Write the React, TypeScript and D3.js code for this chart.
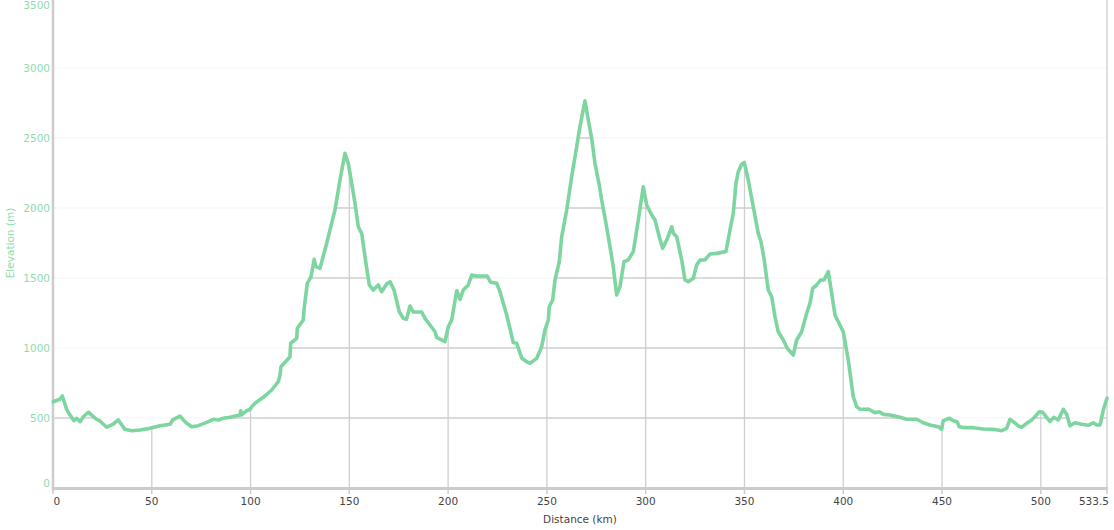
import React from "react";
import * as d3 from "d3";

const distanceKm: number[] = [
  0.15, 3.54, 4.71, 6.93, 8.6, 10.63, 12.0, 13.67, 15.34, 17.87, 19.59, 22.12, 23.79, 27.18, 30.52, 33.05, 34.77, 36.44, 39.83, 44.04,
  49.1, 54.16, 59.22, 60.59, 64.28, 65.95, 67.67, 70.2, 73.54, 77.8, 81.14, 83.67, 86.2, 89.59, 92.98, 94.65, 95.0, 95.3, 98.04, 99.71,
  100.57, 102.24, 106.44, 110.7, 114.04, 114.9, 115.4, 119.96, 120.31, 123.35, 123.65, 126.69, 127.04, 128.71, 130.59, 132.21, 132.97, 135.14, 138.53, 141.87,
  142.73, 145.26, 147.79, 149.47, 151.19, 152.86, 154.53, 156.25, 157.92, 160.1, 162.12, 164.65, 166.37, 168.9, 170.57, 172.6, 175.28, 177.31, 178.93, 180.7,
  182.37, 186.62, 188.29, 190.82, 193.35, 194.21, 198.41, 200.08, 201.8, 204.33, 206.0, 207.67, 210.2, 211.92, 214.45, 219.82, 221.54, 224.58, 226.25, 229.64,
  232.98, 234.7, 237.23, 239.76, 241.43, 244.82, 247.35, 249.02, 250.69, 251.2, 252.92, 254.09, 256.26, 257.48, 260.01, 262.54, 265.07, 266.74, 269.27, 270.94,
  272.66, 274.33, 276.51, 277.72, 279.9, 281.92, 283.59, 285.31, 286.98, 289.01, 291.19, 293.72, 296.25, 298.78, 300.5, 303.03, 304.7, 306.88, 308.6, 310.63,
  313.16, 313.97, 315.69, 318.22, 319.89, 321.56, 324.09, 325.81, 327.48, 330.01, 332.54, 335.93, 340.64, 342.66, 344.33, 345.7, 346.86, 348.58, 349.9, 351.92,
  354.45, 356.98, 358.35, 359.87, 362.05, 363.77, 365.44, 367.11, 369.64, 371.67, 374.7, 376.42, 378.95, 381.48, 383.15, 384.52, 386.54, 388.57, 390.24, 392.42,
  394.14, 395.81, 397.48, 400.01, 402.54, 405.07, 406.79, 408.46, 411.85, 412.66, 416.05, 418.23, 420.25, 423.64, 428.7, 432.09, 437.15, 440.49, 443.88, 448.08,
  449.81, 450.62, 453.66, 455.68, 457.71, 458.72, 461.61, 465.81, 470.87, 475.93, 480.19, 482.72, 484.39, 486.06, 488.59, 490.31, 492.84, 495.37, 497.04, 499.22,
  500.94, 502.96, 504.63, 506.66, 508.84, 511.37, 513.09, 514.76, 517.29, 520.68, 524.03, 526.56, 528.28, 529.95, 531.62, 533.5,
];

const elevationM: number[] = [
  616, 634, 657, 562, 521, 481, 498, 474, 509, 541, 521, 491, 479, 434, 457, 486, 450, 419, 409, 414,
  426, 445, 455, 486, 514, 486, 462, 438, 445, 469, 491, 486, 498, 505, 516, 521, 552, 521, 552, 562,
  581, 605, 648, 700, 759, 807, 866, 938, 1034, 1069, 1141, 1200, 1271, 1462, 1509, 1634, 1581, 1569, 1748, 1938,
  1986, 2200, 2391, 2319, 2176, 2034, 1866, 1819, 1652, 1450, 1414, 1450, 1402, 1457, 1474, 1414, 1259, 1212, 1205, 1300,
  1257, 1257, 1212, 1164, 1116, 1076, 1045, 1152, 1200, 1409, 1348, 1414, 1450, 1521, 1514, 1514, 1469, 1462, 1402, 1236,
  1039, 1034, 929, 902, 891, 926, 1009, 1129, 1200, 1295, 1343, 1486, 1616, 1795, 1986, 2224, 2438, 2581, 2765, 2629,
  2498, 2319, 2164, 2057, 1891, 1724, 1581, 1379, 1438, 1616, 1629, 1688, 1914, 2152, 2021, 1950, 1914, 1795, 1712, 1771,
  1866, 1819, 1795, 1629, 1486, 1474, 1498, 1593, 1629, 1629, 1671, 1676, 1689, 1843, 1962, 2176, 2259, 2312, 2325, 2200,
  2009, 1819, 1759, 1641, 1414, 1366, 1224, 1116, 1057, 998, 950, 1057, 1116, 1248, 1319, 1426, 1450, 1486, 1486, 1545,
  1391, 1236, 1188, 1116, 914, 652, 581, 562, 562, 564, 538, 545, 526, 521, 505, 491, 491, 466, 450, 438,
  419, 481, 498, 481, 471, 438, 431, 431, 421, 419, 409, 426, 491, 474, 443, 434, 462, 486, 509, 545,
  541, 505, 474, 505, 486, 562, 526, 445, 466, 455, 448, 466, 450, 450, 557, 641,
];

const xTickValues: number[] = [0, 50, 100, 150, 200, 250, 300, 350, 400, 450, 500, 533.5];
const xTickLabels: string[] = ["0", "50", "100", "150", "200", "250", "300", "350", "400", "450", "500", "533.5"];
const yTickValues: number[] = [0, 500, 1000, 1500, 2000, 2500, 3000, 3500];
const yTickLabels: string[] = ["0", "500", "1000", "1500", "2000", "2500", "3000", "3500"];

const W = 1114;
const H = 530;
const LINE_COLOR = "#7dd5a0";
const LABEL_GREEN = "#8edcab";
const FONT = "'DejaVu Sans', Verdana, sans-serif";

export default function App() {
  const data = distanceKm.map((d, i) => ({ d, e: elevationM[i] }));
  const x = d3.scaleLinear().domain([0, 533.5]).range([53, 1107]);
  const y = d3.scaleLinear().domain([0, 3500]).range([488, -2]);

  const lineGen = d3
    .line<{ d: number; e: number }>()
    .x((p) => x(p.d))
    .y((p) => y(p.e));
  const areaGen = d3
    .area<{ d: number; e: number }>()
    .x((p) => x(p.d))
    .y0(y(0))
    .y1((p) => y(p.e));

  const x0 = x(0);
  const x1 = x(533.5);
  const yBase = y(0);

  return (
    <div style={{ position: "fixed", left: 0, top: 0, width: W, height: H, background: "#fff" }}>
      <svg width={W} height={H} style={{ display: "block" }}>
        <defs>
          <clipPath id="under">
            <path d={areaGen(data) || ""} />
          </clipPath>
        </defs>
        {/* faint gridlines */}
        {yTickValues.slice(1).map((v) => (
          <line key={"fg" + v} x1={x0} x2={x1} y1={y(v)} y2={y(v)} stroke="#f3f3f3" strokeWidth={1} />
        ))}
        {/* gridlines visible under the profile */}
        <g clipPath="url(#under)">
          {yTickValues.slice(1).map((v) => (
            <line key={"g" + v} x1={x0} x2={x1} y1={y(v)} y2={y(v)} stroke="#cfcfcf" strokeWidth={1.3} />
          ))}
          {xTickValues.slice(1, -1).map((v) => (
            <line key={"vg" + v} x1={x(v)} x2={x(v)} y1={0} y2={yBase} stroke="#cfcfcf" strokeWidth={1.3} />
          ))}
        </g>
        {/* right border */}
        <line x1={x1} x2={x1} y1={0} y2={yBase + 2} stroke="#d4d4d4" strokeWidth={1.5} />
        {/* left axis */}
        <line x1={x0} x2={x0} y1={0} y2={yBase + 3} stroke="#cccccc" strokeWidth={2.5} />
        {/* bottom axis */}
        <line x1={x0} x2={x1 + 1} y1={yBase + 0.5} y2={yBase + 0.5} stroke="#cccccc" strokeWidth={3} />
        {/* x tick marks */}
        {xTickValues.map((v) => (
          <line key={"xt" + v} x1={x(v)} x2={x(v)} y1={yBase + 2} y2={yBase + 6} stroke="#cccccc" strokeWidth={1.5} />
        ))}
        {/* profile line */}
        <path
          d={lineGen(data) || ""}
          fill="none"
          stroke={LINE_COLOR}
          strokeWidth={3.6}
          strokeLinejoin="round"
          strokeLinecap="round"
        />
        {/* x tick labels */}
        {xTickValues.map((v, i) => {
          const isFirst = i === 0;
          const isLast = i === xTickValues.length - 1;
          return (
            <text
              key={"xl" + v}
              x={isFirst ? x(v) + 0.5 : isLast ? x(v) + 2 : x(v)}
              y={505}
              fontSize={10.5}
              fontFamily={FONT}
              fill="#444"
              textAnchor={isFirst ? "start" : isLast ? "end" : "middle"}
            >
              {xTickLabels[i]}
            </text>
          );
        })}
        {/* y tick labels */}
        {yTickValues.map((v, i) => {
          let yy = y(v) + 4;
          if (v === 0) yy = 487;
          if (v === 3500) yy = 9;
          return (
            <text
              key={"yl" + v}
              x={50}
              y={yy}
              fontSize={10.5}
              fontFamily={FONT}
              fill={LABEL_GREEN}
              textAnchor="end"
            >
              {yTickLabels[i]}
            </text>
          );
        })}
        {/* axis titles */}
        <text x={580} y={523} fontSize={10.5} fontFamily={FONT} fill="#444" textAnchor="middle">
          Distance (km)
        </text>
        <text
          transform="translate(14,243) rotate(-90)"
          fontSize={10.5}
          fontFamily={FONT}
          fill={LABEL_GREEN}
          textAnchor="middle"
        >
          Elevation (m)
        </text>
      </svg>
    </div>
  );
}
